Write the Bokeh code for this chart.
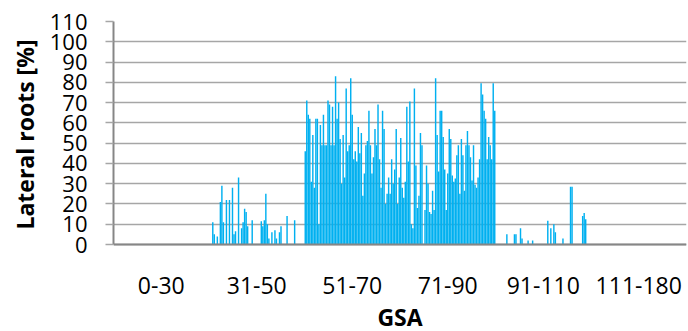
from bokeh.plotting import figure
from bokeh.models import FixedTicker, Range1d, ColumnDataSource, Span, Title
from bokeh.core.properties import value
from bokeh.embed import file_html
from bokeh.resources import INLINE

# ---- data ----
categories = ["0-30", "31-50", "51-70", "71-90", "91-110", "111-180"]
slots_per_category = 63
y_ticks = [0, 10, 20, 30, 40, 50, 60, 70, 80, 90, 100, 110]

# sparse bars in the 31-50 group (bar index, lateral roots %)
low_idx = [65, 66, 68, 70, 71, 72, 74, 76, 78, 79, 80, 82, 84, 85, 86, 87, 88, 91,
           97, 98, 99, 100, 101, 102, 104, 106, 107, 109, 110, 114, 119]
low_val = [11, 5, 4, 21, 29, 11, 22, 22, 28, 5, 6.5, 33, 8, 11, 17.6, 16, 9, 12,
           11.5, 9, 12, 25, 10, 3, 6, 7, 3, 6, 9, 14, 12]

# dense bars in the 51-70 and 71-90 groups (consecutive indices from dense_start)
dense_start = 126
dense_val = [46, 71, 64, 62, 31, 54, 28, 62, 62, 10,
             59, 49, 64, 49, 49, 71, 69, 49, 68, 49,
             83, 62, 70, 52, 30, 54, 33, 77, 46, 49,
             82, 64, 42, 46, 41, 58, 45, 55, 24, 35,
             49, 51, 66, 49, 35, 43, 57, 49, 69, 42,
             28, 66, 57, 20, 25, 33, 25, 42, 30, 37,
             57, 20, 33,
             52.5, 28, 23, 31, 68, 41, 70.5, 10, 8, 77,
             39, 18, 24, 55, 49, 0, 17, 39, 30, 16,
             15, 26.5, 17, 82, 54, 36, 66, 66, 53, 37,
             17, 35, 57, 52,
             34, 31, 32.5, 44, 49, 25, 52, 44, 26.5, 49,
             56, 49, 43, 31.6, 49, 29.5, 28, 33, 42, 79.5,
             74, 66, 62, 42, 53, 49, 42, 79.5, 66]

# sparse bars in the 91-110 group
high_idx = [259, 264, 265, 268, 269, 273, 276, 286, 288, 290, 291, 296, 301, 302, 309, 310, 311]
high_val = [5, 5, 5, 8, 3, 2, 2, 11.7, 8, 10, 6, 3, 28.5, 28.5, 14, 15.5, 12.5]

dense_idx = list(range(dense_start, dense_start + len(dense_val)))
xs = low_idx + dense_idx + high_idx
ys = low_val + dense_val + high_val
src = ColumnDataSource(data=dict(x=xs, top=ys))

n_slots = slots_per_category * len(categories)
cat_centers = [i * slots_per_category + (slots_per_category - 1) // 2 for i in range(len(categories))]

# ---- layout / style ----
FONT = "Open Sans"
BLUE = "#00B0F0"
GRID = "#a6a6a6"
AXIS = "#868686"

W, H = 688, 331
LEFT, RIGHT, TOP = 113, 2, 21
AXIS_PX = 244                      # pixel row of value 0
Y_MAX = 110
px_per_unit = (AXIS_PX - TOP) / Y_MAX
y_start = -(H - AXIS_PX) / px_per_unit   # frame continues below 0 to hold the category texts

p = figure(width=W, height=H, output_backend="svg", toolbar_location=None,
           x_range=Range1d(-0.5, n_slots - 0.5), y_range=Range1d(y_start, Y_MAX),
           x_axis_location=None,
           min_border_left=LEFT, min_border_right=RIGHT, min_border_top=TOP, min_border_bottom=0)
p.outline_line_color = None
p.background_fill_color = "white"
p.border_fill_color = "white"

p.vbar(x="x", top="top", bottom=0, width=0.95, source=src,
       fill_color=BLUE, line_color=None)

# y axis
p.yaxis.bounds = (0, Y_MAX)
p.yaxis.ticker = FixedTicker(ticks=y_ticks)
p.yaxis.axis_line_color = AXIS
p.yaxis.axis_line_width = 2
p.yaxis.major_tick_line_color = GRID
p.yaxis.major_tick_line_width = 1.5
p.yaxis.major_tick_out = 8
p.yaxis.major_tick_in = 0
p.yaxis.minor_tick_line_color = None
p.yaxis.major_label_standoff = 18
p.yaxis.major_label_text_font = FONT
p.yaxis.major_label_text_font_size = "22px"
p.yaxis.major_label_text_color = "black"

# y-axis title: text end placed 18px below the top of the frame
ytitle = Title(text="Lateral roots [%]", align="right", offset=18, standoff=11,
               text_font=FONT, text_font_style="bold", text_font_size="23px",
               text_color="black")
p.add_layout(ytitle, "left")

p.xgrid.visible = False
p.ygrid.ticker = FixedTicker(ticks=y_ticks)
p.ygrid.grid_line_color = GRID
p.ygrid.grid_line_width = 1.5

# horizontal axis line at 0
p.add_layout(Span(location=0, dimension="width", line_color=AXIS, line_width=2))

# category labels and axis title under the axis line
label_src = ColumnDataSource(data=dict(x=cat_centers, y=[-40.5 / px_per_unit] * len(cat_centers),
                                       text=categories))
p.text(x="x", y="y", text="text", source=label_src, text_align="center",
       text_baseline="middle", text_font=value(FONT), text_font_size=value("23px"),
       text_color="black")
title_src = ColumnDataSource(data=dict(x=[(n_slots - 1) / 2], y=[-72 / px_per_unit], text=["GSA"]))
p.text(x="x", y="y", text="text", source=title_src, text_align="center",
       text_baseline="middle", text_font=value(FONT), text_font_size=value("23px"),
       text_font_style="bold", text_color="black")

open("out.html", "w").write(file_html(p, INLINE))
